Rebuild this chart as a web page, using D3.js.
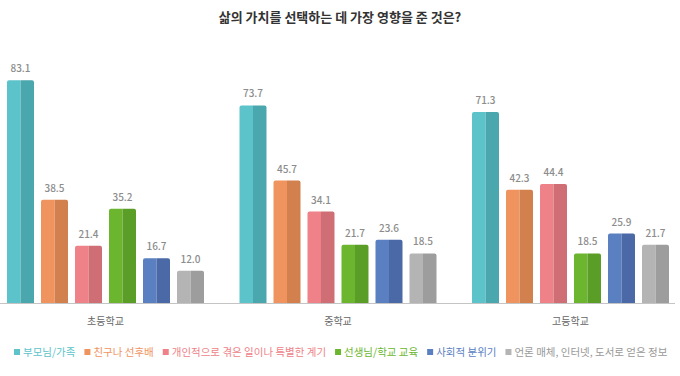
<!DOCTYPE html>
<html>
<head>
<meta charset="utf-8">
<script src="https://cdn.jsdelivr.net/npm/d3@7"></script>
<style>
  body { margin: 0; background: #fff; }
  text { font-family: "Noto Sans CJK KR", "Noto Sans", sans-serif; }
</style>
</head>
<body>
<div id="chart"></div>
<script>
const title = "삶의 가치를 선택하는 데 가장 영향을 준 것은?";
const groups = ["초등학교", "중학교", "고등학교"];
const seriesNames = ["부모님/가족", "친구나 선후배", "개인적으로 겪은 일이나 특별한 계기", "선생님/학교 교육", "사회적 분위기", "언론 매체, 인터넷, 도서로 얻은 정보"];
const elementary = [83.1, 38.5, 21.4, 35.2, 16.7, 12.0];
const middle = [73.7, 45.7, 34.1, 21.7, 23.6, 18.5];
const high = [71.3, 42.3, 44.4, 18.5, 25.9, 21.7];
const lightColors = ["#5cc3ca", "#f0945f", "#ee8288", "#6cb62f", "#5a80c1", "#b4b4b4"];
const darkColors = ["#4aa7ad", "#d3804f", "#cf6e74", "#5a9e27", "#4a69a6", "#9d9d9d"];

const values = [elementary, middle, high];

const width = 680, height = 376;
const baseY = 303;

const svg = d3.select("#chart").append("svg")
    .attr("width", width)
    .attr("height", height);

// 제목
svg.append("text")
    .attr("x", width / 2)
    .attr("y", 22)
    .attr("text-anchor", "middle")
    .attr("font-size", 13)
    .attr("font-weight", "bold")
    .attr("fill", "#333")
    .text(title);

const x0 = d3.scaleBand()
    .domain(groups)
    .range([7, 704.5]);

const x1 = d3.scaleBand()
    .domain(d3.range(seriesNames.length))
    .range([0, 197])
    .paddingInner(0.206);

const y = d3.scaleLinear()
    .domain([0, 100])
    .range([baseY, baseY - 268]);

const r = 2;
function leftHalf(x, top, w) {
    return `M${x},${baseY}V${top + r}Q${x},${top} ${x + r},${top}H${x + w}V${baseY}Z`;
}
function rightHalf(x, top, w) {
    return `M${x},${baseY}V${top}H${x + w - r}Q${x + w},${top} ${x + w},${top + r}V${baseY}Z`;
}

const g = svg.selectAll(".group")
    .data(groups)
    .enter()
    .append("g")
    .attr("class", "group")
    .attr("transform", d => "translate(" + x0(d) + ",0)");

const bars = g.selectAll(".bar")
    .data((d, gi) => values[gi].map((v, i) => ({ v: v, i: i })))
    .enter()
    .append("g")
    .attr("class", "bar");

const bw = x1.bandwidth();

bars.append("path")
    .attr("d", d => leftHalf(x1(d.i), y(d.v), bw / 2))
    .attr("fill", d => lightColors[d.i]);

bars.append("path")
    .attr("d", d => rightHalf(x1(d.i) + bw / 2, y(d.v), bw / 2))
    .attr("fill", d => darkColors[d.i]);

bars.append("text")
    .attr("x", d => x1(d.i) + bw / 2)
    .attr("y", d => y(d.v) - 8)
    .attr("text-anchor", "middle")
    .attr("font-size", 10)
    .attr("font-weight", 500)
    .attr("fill", "#8c8c8c")
    .text(d => d.v.toFixed(1));

// x축 선
svg.append("line")
    .attr("x1", 0)
    .attr("x2", 675)
    .attr("y1", baseY + 0.5)
    .attr("y2", baseY + 0.5)
    .attr("stroke", "#c4c4c4")
    .attr("stroke-width", 1.2);

// 그룹 이름
svg.selectAll(".glabel")
    .data(groups)
    .enter()
    .append("text")
    .attr("class", "glabel")
    .attr("x", d => x0(d) + 98.5)
    .attr("y", 325)
    .attr("text-anchor", "middle")
    .attr("font-size", 10)
    .attr("fill", "#666")
    .text(d => d);

// 범례
const legend = svg.append("g").attr("transform", "translate(14,356)");
let lx = 0;
seriesNames.forEach((name, i) => {
    const item = legend.append("g").attr("transform", "translate(" + lx + ",0)");
    item.append("rect")
        .attr("x", 0)
        .attr("y", -7)
        .attr("width", 6)
        .attr("height", 6)
        .attr("fill", lightColors[i]);
    const t = item.append("text")
        .attr("x", 9)
        .attr("y", 0)
        .attr("font-size", 10.5)
        .attr("fill", i === 5 ? "#999" : lightColors[i])
        .text(name);
    lx += 9 + t.node().getComputedTextLength() + 9;
});
</script>
</body>
</html>
